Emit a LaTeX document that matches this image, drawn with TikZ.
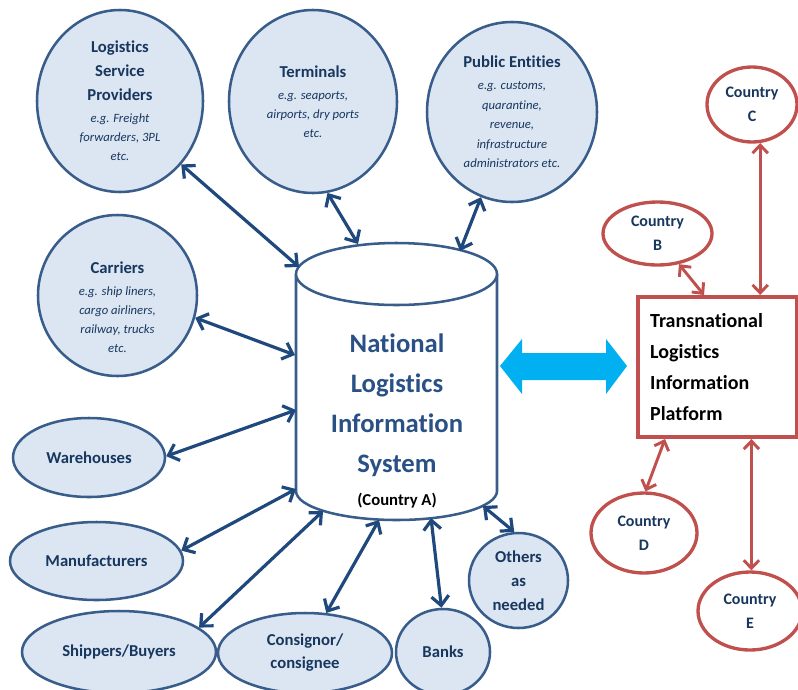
\documentclass[tikz,border=0pt]{standalone}
\usepackage{fontspec}
\setmainfont{Carlito}[Ligatures=NoCommon]
\usetikzlibrary{arrows.meta,shapes.geometric,calc}
\definecolor{nfill}{HTML}{DCE6F2}
\definecolor{nline}{HTML}{385D8A}
\definecolor{ntext}{HTML}{17375E}
\definecolor{arrblue}{HTML}{1F497D}
\definecolor{cyltext}{HTML}{2A5185}
\definecolor{redc}{HTML}{C0504D}
\definecolor{cyanc}{HTML}{00B0F0}
\newcommand\ttlfont{\fontsize{12.5pt}{18pt}\selectfont\bfseries\upshape}
\newcommand\egfont{\fontsize{9.5pt}{18pt}\selectfont\mdseries\itshape}
\newcommand\ctryfont{\fontsize{12pt}{18pt}\selectfont\bfseries}
\newcommand\boxfont{\fontsize{15pt}{23.25pt}\selectfont\bfseries}
\newcommand\cylfont{\fontsize{20pt}{30pt}\selectfont\bfseries}
\begin{document}
\begin{tikzpicture}[x=0.75pt,y=-0.75pt,
  bnode/.style={ellipse, draw=nline, line width=1.9pt, fill=nfill, inner sep=0pt,
    text=ntext, align=center, font=\ttlfont},
  rnode/.style={ellipse, draw=redc, line width=2.5pt, fill=white, inner sep=0pt,
    text=ntext, align=center, font=\ctryfont},
  txt/.style={align=center, text=ntext, font=\ttlfont, inner sep=0pt},
  barr/.style={draw=arrblue, line width=2.4pt, >={Straight Barb[length=7pt,width=13pt]}, <->},
  rarr/.style={draw=redc, line width=2.2pt, >={Straight Barb[length=6pt,width=11.5pt]}, <->}]
\useasboundingbox (0,0) rectangle (798,689);

% blue nodes
\node[bnode, minimum width=124.5pt, minimum height=136.5pt] (lsp) at (120,101)
  {Logistics\\Service\\Providers\\[-2pt]\egfont e.g. Freight\\[-3.4pt]\egfont forwarders, 3PL\\[-3.4pt]\egfont etc.};
\node[bnode, minimum width=126pt, minimum height=137.25pt] (term) at (313,101.5)
  {Terminals\\[-1.5pt]\egfont e.g. seaports,\\[-3.7pt]\egfont airports, dry ports\\[-3.7pt]\egfont etc.};
\node[bnode, minimum width=127.5pt, minimum height=135pt] (pub) at (512,112)
  {Public Entities\\[-1.5pt]\egfont e.g. customs,\\[-3.4pt]\egfont quarantine,\\[-3.4pt]\egfont revenue,\\[-3.4pt]\egfont infrastructure\\[-3.4pt]\egfont administrators etc.};
\node[bnode, minimum width=119.25pt, minimum height=120.75pt] (car) at (117.5,295.5) {};
\node[txt] (cart) at (117.5,307)
  {Carriers\\[-1.5pt]\egfont e.g. ship liners,\\[-3.7pt]\egfont cargo airliners,\\[-3.7pt]\egfont railway, trucks\\[-3.7pt]\egfont etc.};
\node[bnode, minimum width=114pt, minimum height=59.25pt] (war) at (89,457.5) {Warehouses};
\node[bnode, minimum width=129.75pt, minimum height=58.5pt] (man) at (96.5,561) {Manufacturers};
\node[bnode, minimum width=145.5pt, minimum height=61.5pt] (shi) at (119,652) {Shippers/Buyers};
\node[bnode, minimum width=130.5pt, minimum height=60pt] (con) at (305,653) {Consignor/\\[-0.75pt]consignee};
\node[bnode, minimum width=70.5pt, minimum height=64.5pt] (ban) at (443,652) {Banks};
\node[bnode, minimum width=74.25pt, minimum height=71.25pt] (oth) at (518.5,580.5) {Others\\as\\needed};

% cylinder
\draw[nline, line width=1.9pt, fill=white] (296,274) -- (296,491)
  arc[start angle=180, end angle=360, x radius=75.375pt, y radius=21.75pt] -- (497,274);
\draw[nline, line width=1.9pt, fill=white] (396.5,274) ellipse [x radius=75.375pt, y radius=23.25pt];
\node[align=center, text=cyltext, font=\cylfont, inner sep=0pt] (nlis) at (397,421)
  {National\\Logistics\\Information\\System\\[-5.25pt]{\fontsize{12.5pt}{30pt}\selectfont\bfseries\color{black}(Country A)}};

\coordinate (tLSP) at (299,267);
\coordinate (tTerm) at (358,244);
\coordinate (tPub) at (460,251);
\coordinate (tCar) at (295,355);
\coordinate (tWar) at (296,410);
\coordinate (tMan) at (296,489);
\coordinate (tShi) at (323,511);
\coordinate (tCon) at (379,520);
\coordinate (tBan) at (431,518);
\coordinate (tOth) at (483,506);

\draw[barr] (lsp.-46) -- (tLSP);
\draw[barr] (term.-81) -- (tTerm);
\draw[barr] (pub.-110) -- (tPub);
\draw[barr] (car.-16) -- (tCar);
\draw[barr] (war.1) -- (tWar);
\draw[barr] (man.7) -- (tMan);
\draw[barr] (shi.17) -- (tShi);
\draw[barr] (con.62) -- (tCon);
\draw[barr] (ban.92) -- (tBan);
\draw[barr] (oth.95) -- (tOth);

% cyan double arrow
\fill[cyanc] (500,366) -- (522,339) -- (522,353) -- (606,353) -- (606,339) -- (627,366)
  -- (606,394) -- (606,380) -- (522,380) -- (522,394) -- cycle;

% transnational platform
\node[draw=redc, line width=3pt, fill=white, minimum width=119.25pt, minimum height=105pt,
  text width=101pt, align=left, inner sep=0pt, font=\boxfont, text=black] (tlip) at (717.5,367)
  {Transnational\\Logistics\\Information\\Platform};

\node[rnode, minimum width=67.5pt, minimum height=56.25pt] (cC) at (752,104.5) {Country\\C};
\node[rnode, minimum width=81.75pt, minimum height=47.25pt] (cB) at (657.5,233.5) {Country\\B};
\node[rnode, minimum width=79.5pt, minimum height=60pt] (cD) at (644,533) {Country\\D};
\node[rnode, minimum width=78pt, minimum height=58.5pt] (cE) at (750,611) {Country\\E};

\draw[rarr] (cC.-78) -- (cC.-78 |- tlip.north);
\draw[rarr] (cB.-55) -- ($(tlip.north west)+(68,0)$);
\draw[rarr] (cD.88) -- ($(tlip.south west)+(29,0)$);
\draw[rarr] (cE.88) -- (cE.88 |- tlip.south);
\end{tikzpicture}
\end{document}
